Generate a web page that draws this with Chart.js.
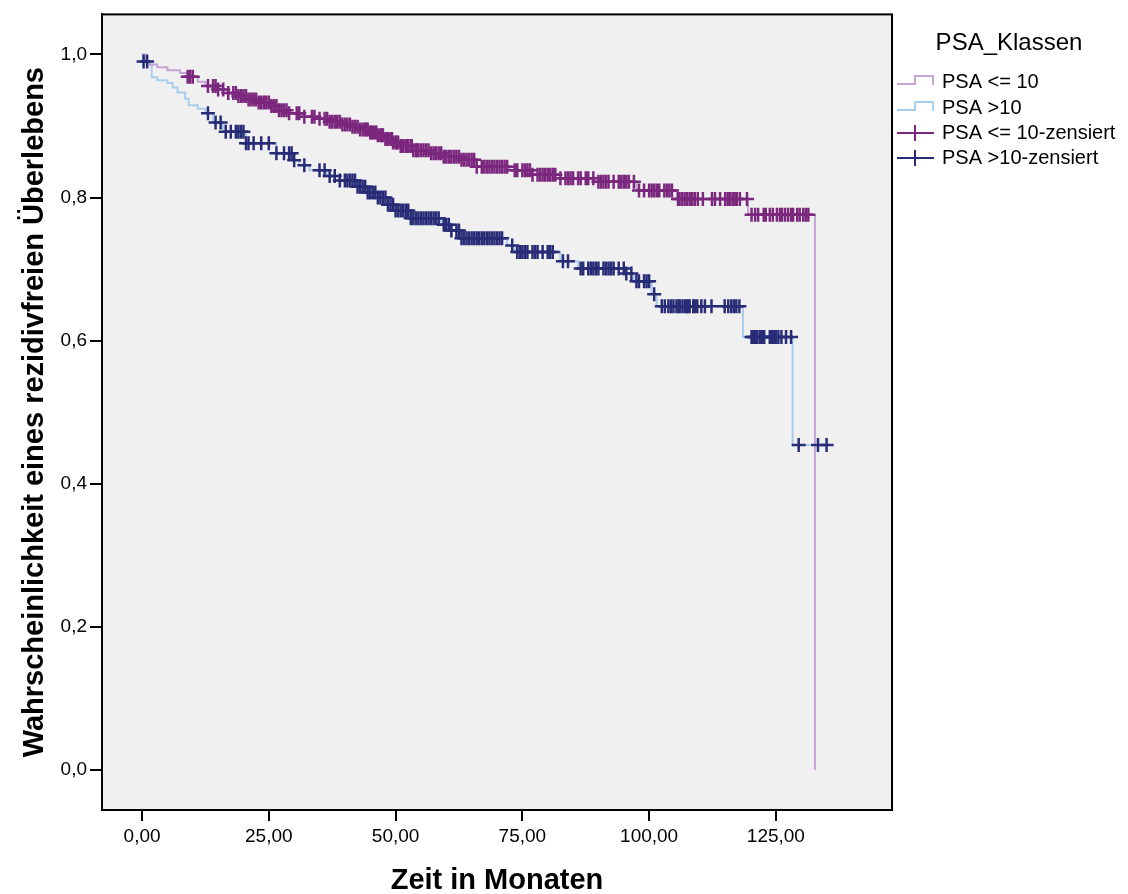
<!DOCTYPE html>
<html>
<head>
<meta charset="utf-8">
<script src="https://cdn.jsdelivr.net/npm/chart.js@4.4.0/dist/chart.umd.min.js"></script>
<style>
body{margin:0;background:#fff}
canvas{display:block}
</style>
</head>
<body>
<canvas id="km" width="1128" height="894"></canvas>
<script>
// Kaplan-Meier steps: event time (months) -> survival after it
const lowTimes = [0,0.6,1.5,3,5,7.5,9,11,12.5,15,17,19,21,23,25.5,27,29,31.5,35,37,39.5,41.5,43,45,46.5,48,49.5,51,53.5,57,59.5,63,66,72.5,77,82.5,90,97.5,105.5,119.5,132.7];
const lowSurv  = [1.0,0.99,0.986,0.982,0.978,0.974,0.969,0.962,0.956,0.951,0.946,0.942,0.937,0.933,0.928,0.922,0.918,0.913,0.910,0.906,0.902,0.899,0.895,0.891,0.887,0.882,0.877,0.872,0.866,0.862,0.857,0.853,0.843,0.838,0.832,0.827,0.822,0.810,0.798,0.776,0.0];

const highTimes = [0,0.2,1.5,1.9,3,5,6,7,8.5,9.2,11,12.5,14,16,20.5,26.5,30,31,33,36.5,39,42.5,44.5,46.5,48.5,50,53,59,61,63,72,73.5,82.5,86,95.5,97,100.5,101.5,118.5,128.3,135];
const highSurv  = [1.0,0.99,0.985,0.968,0.964,0.96,0.954,0.947,0.938,0.929,0.924,0.918,0.905,0.892,0.876,0.862,0.852,0.845,0.838,0.83,0.824,0.815,0.807,0.800,0.790,0.782,0.771,0.762,0.754,0.743,0.733,0.724,0.711,0.701,0.694,0.683,0.665,0.648,0.605,0.454,0.454];

// censored observations (months)
const lowCensored = [9,9.5,10,13,14,14.5,15,16,17,18,18.5,19,19.5,20,20.5,21,21.5,22,22.5,23,23.5,24,24.5,25,25.5,26,26.5,27,27.5,28,28.5,29,30.5,31,32,33.5,34,35,36,36.5,37,37.5,38,38.5,39,39.5,40,40.5,41,41.5,42,42.5,43,43.5,44,44.2,44.5,45,45.3,45.5,46,46.2,46.5,47,47.3,47.5,48,48.2,48.5,49,49.3,49.5,50,50.2,50.5,51,51.2,51.5,52,52.5,53,53.2,53.5,54,54.2,54.5,55,55.5,56,56.5,57,57.5,58,58.5,59,59.5,60,60.5,61,61.5,62,62.5,63,63.5,64,64.5,65,65.5,66,67,67.5,68,68.5,69,69.5,70,70.5,71,71.5,72,73.5,74,75,75.5,76,76.5,77,78,78.5,79,79.5,80,80.5,81,81.5,82.5,83.5,84,84.5,85,86,86.5,87.5,88,89,90,90.5,91,91.5,92,93,94,94.5,95,95.5,96,97,98,99,100,100.5,101,101.5,102,103,103.5,104,104.5,105.7,106,106.5,107,107.5,108,108.5,109,109.6,110.6,112.4,113,114,115,115.5,116,116.5,117,117.3,117.9,119.3,120.2,120.9,121.5,122.6,123,123.8,124.4,125.2,125.8,126.2,126.8,127.4,128,128.4,129.2,129.7,130.4,130.9,131.4];
const highCensored = [0.3,1,13,14.5,15.5,16.5,17.5,18.5,19,19.5,20,20.5,21,22,23.5,25,26.5,28,29,29.5,30,32,35,36,37,38,39,40,40.5,41,41.5,42,42.5,43,43.5,44,44.5,45,45.5,46,46.5,47,47.5,48,48.5,49,49.5,50,50.5,51,51.5,52,52.5,53,53.5,54,54.5,55,55.5,56,56.5,57,57.5,58,58.5,59.5,60,60.5,61,62,62.5,63,63.5,64,64.5,65,65.5,66,66.5,67,67.5,68,68.5,69,69.5,70,70.5,71,73,74,74.5,75,75.5,76,77,77.5,78,79,80,80.5,81,83,84,86.5,87,88,88.5,89,89.5,90,91,91.5,92,92.5,93,94,95,95.5,96.5,97.5,98,99,99.5,100,101,102.5,103.1,103.8,104.3,104.8,105.4,105.8,106.1,106.6,107.1,107.4,107.7,108,108.7,109,109.5,110.3,111,112.3,114.9,115.6,116.2,116.7,117.2,117.8,120.2,120.5,120.8,121,121.3,121.8,122,122.3,122.7,123.8,124.2,124.6,125,125.5,126.1,127,128,129.5,133.3,135];

const xTicks = [0,25,50,75,100,125];
const yTicks = [0,0.2,0.4,0.6,0.8,1.0];
const seriesNames = ['PSA <= 10','PSA >10','PSA <= 10-zensiert','PSA >10-zensiert'];
const seriesColors = ['#c4a4d4','#a9cdec','#7b277e','#282c77'];

function steps(times, surv){
    return times.map((t,i)=>({x:t,y:surv[i]}));
}
function survAt(times, surv, t){
    var s = surv[0];
    for(var i=0;i<times.length;i++){ if(times[i]<=t) s=surv[i]; }
    return s;
}
function marks(cens, times, surv){
    return cens.map(t=>({x:t,y:survAt(times,surv,t)}));
}

const frame = {
    id:'frame',
    beforeDraw(chart){
        const a=chart.chartArea, c=chart.ctx;
        c.save();
        c.fillStyle='#f0f0f0';
        c.fillRect(a.left,a.top,a.right-a.left,a.bottom-a.top);
        c.restore();
    },
    afterDraw(chart){
        const a=chart.chartArea, c=chart.ctx;
        c.save();
        c.strokeStyle='#000';
        c.lineWidth=2;
        c.strokeRect(a.left,a.top,a.right-a.left,a.bottom-a.top);

        // legend
        c.fillStyle='#000';
        c.textBaseline='middle';
        c.textAlign='center';
        c.font='24px "Liberation Sans", Arial, sans-serif';
        c.fillText('PSA_Klassen',1009,43);
        c.textAlign='left';
        c.font='20px "Liberation Sans", Arial, sans-serif';
        const rows=[82,108,133,158];
        rows.forEach((y,i)=>{
            c.strokeStyle=seriesColors[i];
            c.lineWidth=2;
            c.beginPath();
            if(i<2){
                c.moveTo(897,y+2); c.lineTo(915,y+2); c.lineTo(915,y-6);
                c.lineTo(933,y-6); c.lineTo(933,y+3);
            }else{
                c.moveTo(897,y); c.lineTo(934,y);
                c.moveTo(915,y-8); c.lineTo(915,y+8);
            }
            c.stroke();
            c.fillText(seriesNames[i],942,y);
        });
        c.restore();
    }
};

new Chart(document.getElementById('km'),{
    type:'line',
    data:{
        datasets:[
            {label:seriesNames[2],data:marks(lowCensored,lowTimes,lowSurv),showLine:false,
             pointStyle:'cross',pointRadius:7,pointBorderWidth:2.5,borderColor:seriesColors[2],order:0},
            {label:seriesNames[3],data:marks(highCensored,highTimes,highSurv),showLine:false,
             pointStyle:'cross',pointRadius:7,pointBorderWidth:2.5,borderColor:seriesColors[3],order:1},
            {label:seriesNames[0],data:steps(lowTimes,lowSurv),stepped:'before',borderColor:seriesColors[0],
             borderWidth:2,pointRadius:0,fill:false,order:2},
            {label:seriesNames[1],data:steps(highTimes,highSurv),stepped:'before',borderColor:seriesColors[1],
             borderWidth:2,pointRadius:0,fill:false,order:3}
        ]
    },
    options:{
        responsive:false,
        animation:false,
        devicePixelRatio:1,
        layout:{padding:{left:0,top:14,right:236,bottom:0}},
        plugins:{legend:{display:false},tooltip:{enabled:false}},
        font:{family:'"Liberation Sans", Arial, sans-serif'},
        scales:{
            x:{
                type:'linear',min:-7.9,max:147.9,
                afterFit(s){ s.height=84; },
                afterBuildTicks(s){ s.ticks=xTicks.map(v=>({value:v})); },
                grid:{drawOnChartArea:false,drawTicks:true,tickLength:11,color:'#000',lineWidth:2},
                border:{display:true,color:'#000',width:2},
                ticks:{color:'#000',padding:4,maxRotation:0,font:{size:19,family:'"Liberation Sans", Arial, sans-serif'},
                       callback:v=>v.toFixed(2).replace('.',',')},
                title:{display:true,text:'Zeit in Monaten',color:'#000',padding:{top:0,bottom:-1},
                       font:{size:29,weight:'bold',lineHeight:1,family:'"Liberation Sans", Arial, sans-serif'}}
            },
            y:{
                type:'linear',min:-0.056,max:1.056,
                afterFit(s){ s.width=102; },
                afterBuildTicks(s){ s.ticks=yTicks.map(v=>({value:v})); },
                grid:{drawOnChartArea:false,drawTicks:true,tickLength:12,color:'#000',lineWidth:2},
                border:{display:true,color:'#000',width:2},
                ticks:{color:'#000',padding:3,font:{size:19,family:'"Liberation Sans", Arial, sans-serif'},
                       callback:v=>v.toFixed(1).replace('.',',')},
                title:{display:true,text:'Wahrscheinlichkeit eines rezidivfreien Überlebens',color:'#000',
                       padding:{top:20,bottom:0},
                       font:{size:29,weight:'bold',lineHeight:1,family:'"Liberation Sans", Arial, sans-serif'}}
            }
        }
    },
    plugins:[frame]
});
</script>
</body>
</html>
